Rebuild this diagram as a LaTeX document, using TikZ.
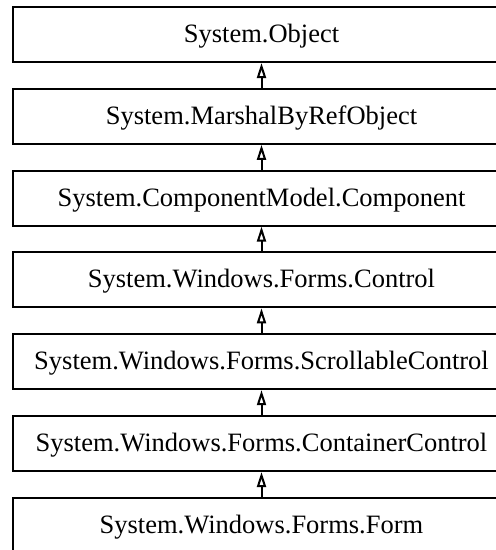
\documentclass[tikz,border=0pt]{standalone}
\usepackage{fontspec}
\setmainfont{Liberation Serif}
\usetikzlibrary{positioning,arrows.meta}
\begin{document}
\begin{tikzpicture}[
    classbox/.style={draw, line width=2pt, minimum width=497pt, minimum height=55pt,
                     text height=22pt, text depth=6pt,
                     font=\fontsize{26.5}{30}\selectfont},
    inherit/.style={-{Triangle[open,length=15pt,width=9pt]}, line width=2pt}]
    % Cornice della figura
    \clip (0,0) rectangle (496pt,-550pt);

    % Gerarchia delle classi
    \node[classbox] (obj) at (261.5pt,-34.5pt) {System.Object};
    \node[classbox, below=24.8pt of obj] (mbro) {System.MarshalByRefObject};
    \node[classbox, below=24.8pt of mbro] (comp) {System.ComponentModel.Component};
    \node[classbox, below=24.8pt of comp] (ctrl) {System.Windows.Forms.Control};
    \node[classbox, below=24.8pt of ctrl] (scroll) {System.Windows.Forms.ScrollableControl};
    \node[classbox, below=24.8pt of scroll] (cont) {System.Windows.Forms.ContainerControl};
    \node[classbox, below=24.8pt of cont] (form) {System.Windows.Forms.Form};

    % Frecce di ereditarietà
    \draw[inherit] (mbro) -- (obj);
    \draw[inherit] (comp) -- (mbro);
    \draw[inherit] (ctrl) -- (comp);
    \draw[inherit] (scroll) -- (ctrl);
    \draw[inherit] (cont) -- (scroll);
    \draw[inherit] (form) -- (cont);
\end{tikzpicture}
\end{document}
